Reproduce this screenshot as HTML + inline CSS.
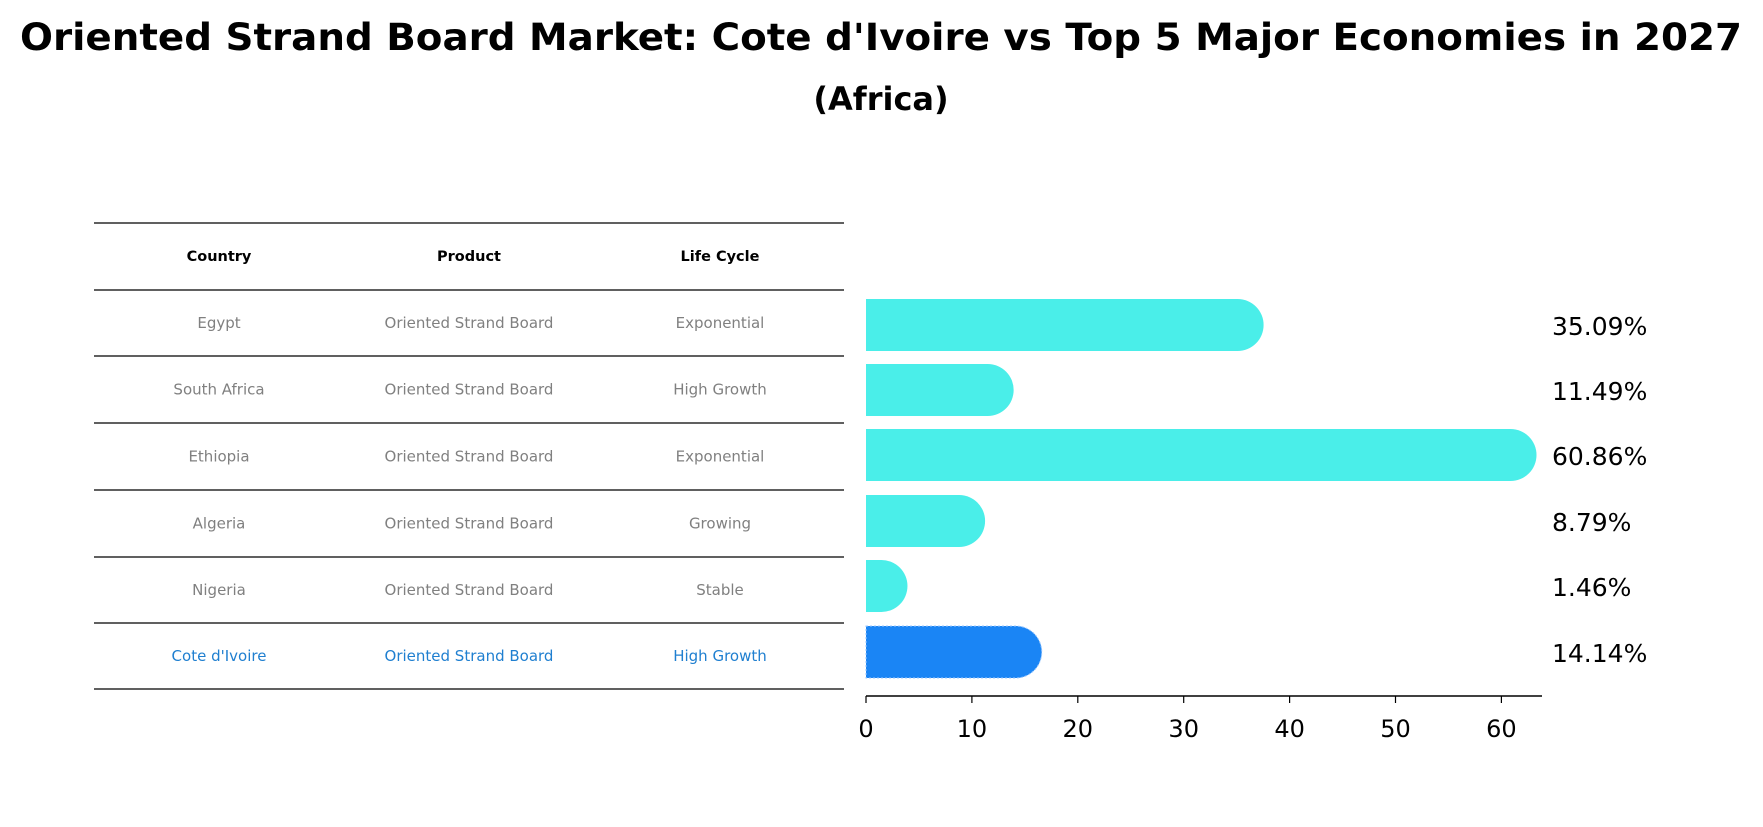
<!DOCTYPE html>
<html><head><meta charset="utf-8"><style>
body{margin:0;background:#fff;font-family:"DejaVu Sans","Liberation Sans",sans-serif}
</style></head><body>
<svg width="1763" height="823" xmlns="http://www.w3.org/2000/svg" font-family="DejaVu Sans, Liberation Sans, sans-serif">
<text x="881" y="50" text-anchor="middle" font-size="37" font-weight="bold" textLength="1722" lengthAdjust="spacingAndGlyphs">Oriented Strand Board Market: Cote d'Ivoire vs Top 5 Major Economies in 2027</text>
<text x="881" y="110" text-anchor="middle" font-size="32" font-weight="bold">(Africa)</text>
<g id="table"></g>
<g id="bars"></g>
</svg>
<script>
const countries=["Egypt","South Africa","Ethiopia","Algeria","Nigeria","Cote d'Ivoire"];
const products=["Oriented Strand Board","Oriented Strand Board","Oriented Strand Board","Oriented Strand Board","Oriented Strand Board","Oriented Strand Board"];
const lifeCycles=["Exponential","High Growth","Exponential","Growing","Stable","High Growth"];
const values=[35.09,11.49,60.86,8.79,1.46,14.14];
const ticks=[0,10,20,30,40,50,60];
const NS="http://www.w3.org/2000/svg";
function mk(tag,attrs,parent,text){const e=document.createElementNS(NS,tag);for(const k in attrs)e.setAttribute(k,attrs[k]);if(text!==undefined)e.textContent=text;parent.appendChild(e);return e;}
const tbl=document.getElementById('table'), bars=document.getElementById('bars');
const lineYs=[223,290,356,423,490,557,623,689];
const colX=[219,469,720];
lineYs.forEach((y,i)=>{const l=mk('line',{x1:94,x2:844,y1:y,y2:y,stroke:'#000','stroke-width':1.2},tbl);

});
["Country","Product","Life Cycle"].forEach((h,i)=>{const t=mk('text',{x:colX[i],y:261,'text-anchor':'middle','font-size':14.5,'font-weight':'bold'},tbl,h);

});
const x=v=>866+v*10.59;
const rowY=i=>(lineYs[i+1]+lineYs[i+2])/2;
countries.forEach((c,i)=>{
 const hi=i===countries.length-1;
 const col=hi?'#1f7fd0':'#808080';
 [c,products[i],lifeCycles[i]].forEach((s,j)=>{const t=mk('text',{x:colX[j],y:rowY(i)+5,'text-anchor':'middle','font-size':15,fill:col},tbl,s);
 
 });
 const cy=[325,390,455,521,586,652][i];
 const r=26,x0=x(0),x1=x(values[i]);
 const p=mk('path',{d:`M${x0},${cy-r} L${x1},${cy-r} A${r},${r} 0 0 1 ${x1},${cy+r} L${x0},${cy+r} Z`,fill:hi?'#1a85f5':'#4aeee9'},bars);
 if(hi){p.setAttribute('stroke','#9cc8ff');p.setAttribute('stroke-dasharray','2 2');p.setAttribute('stroke-width','1');}
 
 
 const t=mk('text',{x:1552,y:cy+10,'font-size':25},bars,values[i].toFixed(2)+'%');
 
 
});
const ax=mk('line',{x1:866,x2:1542,y1:696,y2:696,stroke:'#000','stroke-width':1.5},bars);


ticks.forEach(v=>{const tk=mk('line',{x1:x(v),x2:x(v),y1:696,y2:703,stroke:'#000','stroke-width':1.2},bars);


const t=mk('text',{x:x(v),y:737,'text-anchor':'middle','font-size':24},bars,String(v));

});
</script>
</body></html>
